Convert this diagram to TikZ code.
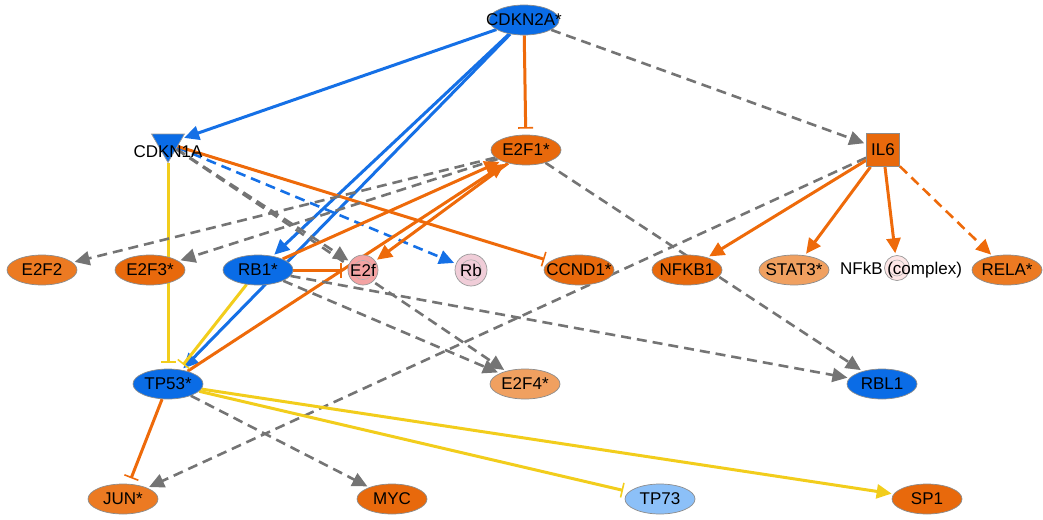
\documentclass[tikz,border=0pt]{standalone}
\usepackage{fontspec}
\setmainfont{Liberation Sans}
\usepackage{mathtools}
\usetikzlibrary{shapes.geometric}
\usetikzlibrary{arrows.meta}
\usetikzlibrary{backgrounds}
\tikzset{>=latex}

\definecolor{upblue}{HTML}{0A6CE6}
\definecolor{paleblue}{HTML}{8CC0F8}
\definecolor{darkorange}{HTML}{E8690C}
\definecolor{midorange}{HTML}{EC7A22}
\definecolor{lightorange}{HTML}{F0A060}
\definecolor{salmon}{HTML}{F4A3A3}
\definecolor{rosy}{HTML}{F0CDD8}
\definecolor{blush}{HTML}{FDE6E6}
\definecolor{edgeblue}{HTML}{1570E6}
\definecolor{edgeorange}{HTML}{EE6A0A}
\definecolor{edgegray}{HTML}{747474}
\definecolor{edgeyellow}{HTML}{F2CD1C}

\tikzset{
    gene/.style={
        ellipse,
        draw=black!45,
        line width=0.7pt,
        minimum width=70pt,
        minimum height=30pt,
        inner sep=0pt,
        font=\fontsize{17}{19}\selectfont,
    },
    complexnode/.style={
        circle,
        draw=black!40,
        line width=0.7pt,
        inner sep=0pt,
        font=\fontsize{17}{19}\selectfont,
        path picture={\draw[black!30, line width=0.6pt] (path picture bounding box.center) circle (0.32*\pgfkeysvalueof{/pgf/minimum width});},
    },
    act/.style={
        line width=3pt,
        -{Triangle[length=15pt,width=14pt]},
        shorten >=2pt,
    },
    inh/.style={
        line width=3pt,
        -{Bar[width=15pt,line width=1.6pt]},
        shorten >=6pt,
    },
    indirect/.style={
        line width=2.6pt,
        dash pattern=on 10pt off 6pt,
    },
}

\begin{document}
\begin{tikzpicture}[x=1pt,y=-1pt]
    \useasboundingbox (0,0) rectangle (1043,519);

    \node[gene, fill=upblue] (CDKN2A) at (524,20) {\clap{CDKN2A*}};
    \node[regular polygon, regular polygon sides=3, shape border rotate=180,
          minimum size=38pt, inner sep=0pt, fill=upblue, draw=black!40,
          line width=0.7pt] (CDKN1A) at (168,143.5) {};
    \node[font=\fontsize{17}{19}\selectfont, inner sep=0pt] (CDKN1Alabel) at (168,152) {CDKN1A};
    \node[gene, fill=darkorange] (E2F1) at (526,150) {\clap{E2F1*}};
    \node[rectangle, minimum size=33pt, inner sep=0pt, fill=darkorange, draw=black!45,
          line width=0.7pt, font=\fontsize{17}{19}\selectfont] (IL6) at (883,150) {IL6};

    \node[gene, fill=midorange] (E2F2) at (42,270) {\clap{E2F2}};
    \node[gene, fill=darkorange] (E2F3) at (150,270) {\clap{E2F3*}};
    \node[gene, fill=upblue] (RB1) at (258,270) {\clap{RB1*}};
    \node[complexnode, minimum size=30pt, fill=salmon] (E2f) at (363,270) {E2f};
    \node[complexnode, minimum size=32pt, fill=rosy] (Rb) at (471,270) {Rb};
    \node[gene, fill=darkorange] (CCND1) at (579,270) {\clap{CCND1*}};
    \node[gene, fill=darkorange] (NFKB1) at (687,270) {\clap{NFKB1}};
    \node[gene, fill=lightorange] (STAT3) at (794,270) {\clap{STAT3*}};
    \node[complexnode, minimum size=25pt, fill=blush] (NFkB) at (897,268) {};
    \node[font=\fontsize{17}{19}\selectfont, inner sep=0pt] (NFkBlabel) at (901,270) {NFkB (complex)};
    \node[gene, fill=midorange] (RELA) at (1007,270) {\clap{RELA*}};

    \node[gene, fill=upblue] (TP53) at (168,384) {\clap{TP53*}};
    \node[gene, fill=lightorange] (E2F4) at (525,384) {\clap{E2F4*}};
    \node[gene, fill=upblue] (RBL1) at (882,384) {\clap{RBL1}};

    \node[gene, fill=midorange] (JUN) at (123,499) {\clap{JUN*}};
    \node[gene, fill=darkorange] (MYC) at (392,499) {\clap{MYC}};
    \node[gene, fill=paleblue] (TP73) at (660,499) {\clap{TP73}};
    \node[gene, fill=darkorange] (SP1) at (927,499) {\clap{SP1}};

    \begin{scope}[on background layer]
        \draw[act, edgeblue] (CDKN2A) -- (CDKN1A);
        \draw[act, edgeblue] (CDKN2A) -- (RB1);
        \draw[act, edgeblue] (CDKN2A) -- (TP53);
        \draw[inh, edgeorange] (CDKN2A) -- (E2F1);
        \draw[act, indirect, edgegray] (CDKN2A) -- (IL6);

        \draw[inh, edgeyellow] (CDKN1A) -- (TP53);
        \draw[act, indirect, edgegray] (CDKN1A) -- (E2f);
        \draw[act, indirect, edgegray] (CDKN1A) -- (E2F4);
        \draw[act, indirect, edgeblue] (CDKN1A) -- (Rb);
        \draw[inh, edgeorange] (CDKN1A) -- (CCND1);

        \draw[act, indirect, edgegray] (E2F1) -- (E2F2);
        \draw[act, indirect, edgegray] (E2F1) -- (E2F3);
        \draw[act, edgeorange] (E2F1) -- (E2f);
        \draw[act, indirect, edgegray] (E2F1) -- (RBL1);

        \draw[act, edgeorange] (RB1) -- (E2F1);
        \draw[act, edgeorange] (TP53) -- (E2F1);
        \draw[inh, edgeorange] (RB1) -- (E2f);
        \draw[inh, edgeyellow] (RB1) -- (TP53);
        \draw[act, indirect, edgegray] (RB1) -- (E2F4);
        \draw[act, indirect, edgegray] (RB1) -- (RBL1);

        \draw[act, indirect, edgegray] (IL6) -- (JUN);
        \draw[act, edgeorange] (IL6) -- (NFKB1);
        \draw[act, edgeorange] (IL6) -- (STAT3);
        \draw[act, edgeorange] (IL6) -- (NFkB);
        \draw[act, indirect, edgeorange] (IL6) -- (RELA);

        \draw[inh, edgeorange] (TP53) -- (JUN);
        \draw[act, indirect, edgegray] (TP53) -- (MYC);
        \draw[inh, edgeyellow] (TP53) -- (TP73);
        \draw[act, edgeyellow] (TP53) -- (SP1);
    \end{scope}
\end{tikzpicture}
\end{document}
